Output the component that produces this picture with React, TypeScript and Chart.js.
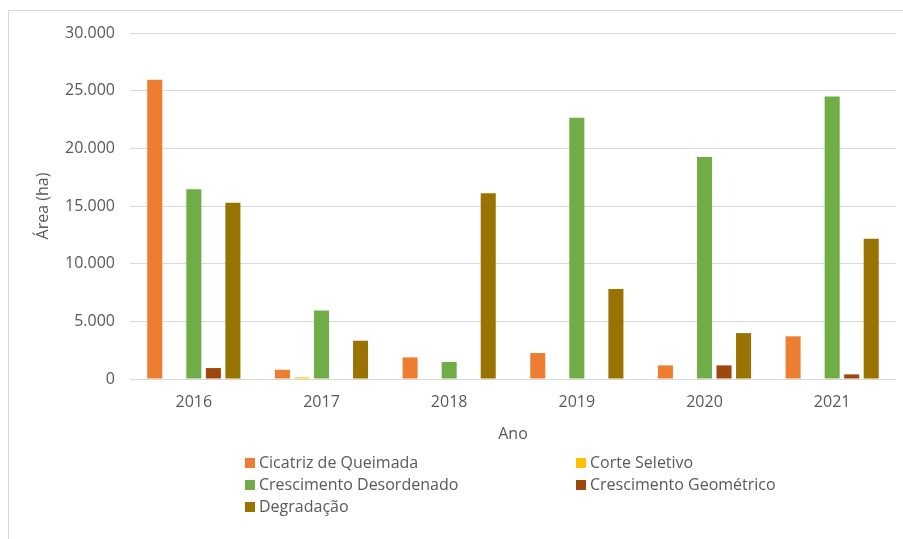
import React, { useEffect, useRef } from "react";
import { Chart, registerables } from "chart.js";

Chart.register(...registerables);

const categories = ["2016", "2017", "2018", "2019", "2020", "2021"];
const seriesNames = [
  "Cicatriz de Queimada",
  "Corte Seletivo",
  "Crescimento Desordenado",
  "Crescimento Geométrico",
  "Degradação",
];
const cicatriz = [25950, 800, 1870, 2250, 1180, 3700];
const corteSeletivo = [0, 140, 0, 0, 0, 0];
const desordenado = [16450, 5950, 1480, 22650, 19250, 24500];
const geometrico = [950, 0, 0, 0, 1180, 400];
const degradacao = [15280, 3320, 16100, 7800, 3980, 12150];
const seriesColors = ["#ED7D31", "#FFC000", "#70AD47", "#9E480E", "#997300"];
const yTicksMax = 30000;
const yTickStep = 5000;
const xTitle = "Ano";
const yTitle = "Área (ha)";

const FONT = "'Open Sans', sans-serif";
const TEXT = "#595959";
const GRID = "#d9d9d9";

const fmt = (v: number) => String(Math.round(v)).replace(/\B(?=(\d{3})+(?!\d))/g, ".");

const legendPlugin = {
  id: "gridLegend",
  afterDraw(chart: any) {
    const ctx = chart.ctx;
    const cols = [245, 576];
    const rows = [463, 485, 507];
    ctx.save();
    ctx.font = `16px ${FONT}`;
    ctx.textBaseline = "middle";
    ctx.textAlign = "left";
    chart.data.datasets.forEach((ds: any, i: number) => {
      const x = cols[i % 2];
      const y = rows[Math.floor(i / 2)];
      ctx.fillStyle = ds.backgroundColor;
      ctx.fillRect(x, y - 5, 10, 10);
      ctx.fillStyle = TEXT;
      ctx.fillText(ds.label, x + 14, y);
    });
    ctx.restore();
  },
};

export default function App() {
  const ref = useRef<HTMLCanvasElement | null>(null);
  useEffect(() => {
    if (!ref.current) return;
    const values = [cicatriz, corteSeletivo, desordenado, geometrico, degradacao];
    const chart = new Chart(ref.current, {
      type: "bar",
      data: {
        labels: categories,
        datasets: seriesNames.map((name, i) => ({
          label: name,
          data: values[i],
          backgroundColor: seriesColors[i],
          borderWidth: 0,
          categoryPercentage: 0.765,
          barPercentage: 0.77,
        })),
      },
      options: {
        animation: false,
        responsive: false,
        maintainAspectRatio: false,
        layout: { padding: { top: 33, right: 7, bottom: 95, left: 0 } },
        plugins: {
          legend: { display: false },
          tooltip: { enabled: false },
        },
        scales: {
          x: {
            grid: { display: false },
            border: { display: false },
            ticks: { color: TEXT, font: { family: FONT, size: 16 }, padding: 6 },
            title: {
              display: true,
              text: xTitle,
              color: TEXT,
              font: { family: FONT, size: 16 },
              padding: { top: 0, bottom: 0 },
            },
            afterFit: (s: any) => {
              s.height = 65;
            },
          },
          y: {
            min: 0,
            max: yTicksMax,
            grid: { color: GRID, lineWidth: 1, drawTicks: false },
            border: { display: false },
            ticks: {
              stepSize: yTickStep,
              color: TEXT,
              font: { family: FONT, size: 16 },
              padding: 15,
              callback: (v: any) => fmt(Number(v)),
            },
            title: {
              display: true,
              text: yTitle,
              color: TEXT,
              font: { family: FONT, size: 16 },
              padding: { top: 34, bottom: 0 },
            },
            afterFit: (s: any) => {
              s.width = 130;
            },
          },
        },
      },
      plugins: [legendPlugin],
    });
    return () => chart.destroy();
  }, []);

  return (
    <div
      style={{
        position: "fixed",
        left: 0,
        top: 0,
        width: 903,
        height: 539,
        overflow: "hidden",
        background: "#fff",
      }}
    >
      <div
        style={{
          position: "absolute",
          left: 8,
          top: 10,
          width: 1000,
          height: 1000,
          border: "1px solid #d9d9d9",
        }}
      />
      <canvas
        ref={ref}
        width={903}
        height={539}
        style={{ position: "absolute", left: 0, top: 0, width: 903, height: 539 }}
      />
    </div>
  );
}
